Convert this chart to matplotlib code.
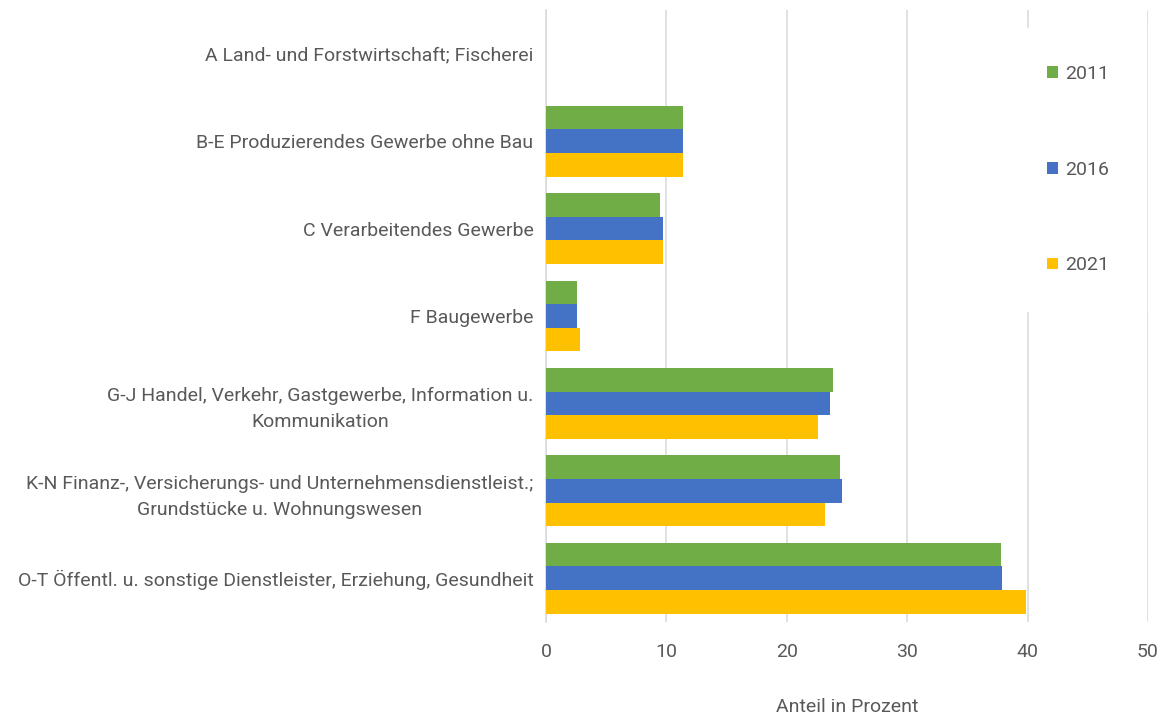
import matplotlib.pyplot as plt
import numpy as np

# Daten (Anteil in Prozent)
kategorien = [
    "A Land- und Forstwirtschaft; Fischerei",
    "B-E Produzierendes Gewerbe ohne Bau",
    "C Verarbeitendes Gewerbe",
    "F Baugewerbe",
    "G-J Handel, Verkehr, Gastgewerbe, Information u.\nKommunikation",
    "K-N Finanz-, Versicherungs- und Unternehmensdienstleist.;\nGrundstücke u. Wohnungswesen",
    "O-T Öffentl. u. sonstige Dienstleister, Erziehung, Gesundheit",
]
jahre = ["2011", "2016", "2021"]
werte_2011 = [0.0, 11.4, 9.5, 2.6, 23.8, 24.4, 37.8]
werte_2016 = [0.0, 11.35, 9.7, 2.6, 23.6, 24.55, 37.9]
werte_2021 = [0.0, 11.4, 9.75, 2.85, 22.6, 23.2, 39.9]

farben = ["#70AD47", "#4472C4", "#FFC000"]
grau = "#595959"

plt.rcParams['font.family'] = ['Roboto', 'DejaVu Sans']
plt.rcParams['font.size'] = 14

fig = plt.figure(figsize=(11.69, 7.22), dpi=100)
ax = fig.add_axes([546/1169, 1 - 622/722, (1148 - 546)/1169, (622 - 10)/722])

y = np.arange(len(kategorien))
h = 0.27
for i, (werte, jahr) in enumerate(zip([werte_2011, werte_2016, werte_2021], jahre)):
    ax.barh(y + (i - 1) * h, werte, height=h, color=farben[i], label=jahr,
            linewidth=0, zorder=3)

ax.set_ylim(len(kategorien) - 0.5, -0.5)
ax.set_xlim(0, 50)
ax.set_xticks(range(0, 51, 10))
ax.set_yticks(y)
ax.set_yticklabels(kategorien, linespacing=1.55, multialignment='center')

ax.grid(axis='x', color='#D9D9D9', linewidth=1.1, zorder=0)
ax.set_axisbelow(True)
for s in ['top', 'right', 'bottom']:
    ax.spines[s].set_visible(False)
ax.spines['left'].set_color('#D9D9D9')
ax.spines['left'].set_linewidth(1.1)
ax.tick_params(axis='both', length=0, colors=grau, labelsize=14)
ax.tick_params(axis='x', pad=15)
ax.tick_params(axis='y', pad=9)

ax.set_xlabel("Anteil in Prozent", color=grau, fontsize=14, labelpad=27)

leg = fig.legend(loc='upper left', bbox_to_anchor=(1010/1169, 1 - 28/722),
                 borderaxespad=0, borderpad=1.9, frameon=True, fancybox=False,
                 handlelength=0.55, handleheight=0.55, handletextpad=0.4,
                 labelspacing=4.0, fontsize=14)
leg.get_frame().set_facecolor('white')
leg.get_frame().set_edgecolor('white')
leg.get_frame().set_alpha(1)
for t in leg.get_texts():
    t.set_color(grau)

fig.savefig("out.png", dpi=100)
